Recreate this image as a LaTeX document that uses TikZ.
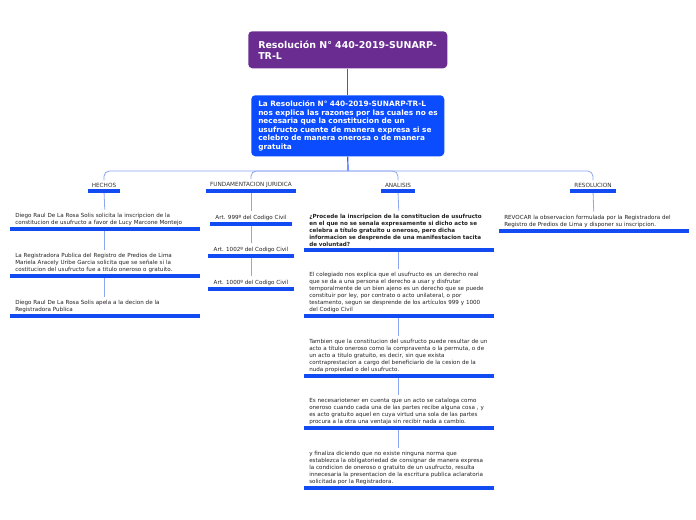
\documentclass[tikz,border=0pt]{standalone}
\usepackage{fontspec}
\setmainfont{DejaVu Sans}
\definecolor{purp}{HTML}{6A2C91}
\definecolor{bbox}{HTML}{0B4CFF}
\definecolor{ulc}{HTML}{124BF2}
\definecolor{connc}{HTML}{8DA6F2}
\definecolor{mainc}{HTML}{2A5BFF}
\definecolor{txt}{HTML}{222222}
\definecolor{headc}{HTML}{333333}
\newcommand{\oneline}[1]{\mbox{#1}}
\tikzset{
  titlebox/.style={draw=none, fill=purp, rounded corners=3pt, text=white, anchor=north west,
    minimum width=149.25pt, minimum height=27.75pt, text width=134.25pt, inner xsep=7.5pt,
    align=left, font=\fontsize{7.1}{8.3}\selectfont\bfseries},
  mainbox/.style={draw=none, fill=bbox, rounded corners=3pt, text=white, anchor=north west,
    minimum width=144.75pt, minimum height=45.75pt, text width=134.25pt, inner xsep=5.25pt,
    align=left, font=\fontsize{5.5}{6.45}\selectfont\bfseries},
  headnode/.style={anchor=south, inner xsep=3pt, inner ysep=2.2pt, text=headc,
    font=\fontsize{4.3}{5}\selectfont},
  artnode/.style={anchor=south, inner xsep=3.75pt, inner ysep=2.6pt, text=txt,
    font=\fontsize{4.2}{5}\selectfont},
  itemnode/.style={anchor=south west, inner xsep=3.75pt, inner ysep=2.4pt, text width=134.25pt,
    align=left, text=txt, font=\fontsize{4.2}{5.25}\selectfont},
  uline/.style={draw=ulc, line width=2.3pt},
  conn/.style={draw=connc, line width=0.6pt},
  mainconn/.style={draw=mainc, line width=0.9pt},
}
\begin{document}
\begin{tikzpicture}[x=0.75pt,y=-0.75pt]
\useasboundingbox[fill=white] (0,0) rectangle (696,520);

\node[titlebox] (title) at (248,31) {\oneline{Resolución N° 440-2019-SUNARP-}\\\oneline{TR-L}};
\node[mainbox] (main) at (251,95) {\oneline{La Resolución N° 440-2019-SUNARP-TR-L}\\\oneline{nos explica las razones por las cuales no es}\\\oneline{necesaria que la constitucion de un}\\\oneline{usufructo cuente de manera expresa si se}\\\oneline{celebro de manera onerosa o de manera}\\\oneline{gratuita}};
\draw[mainconn] (title.south) -- (main.north);
\coordinate (junc) at (348,171);
\draw[mainconn] (main.south) -- (junc);

% headings
\node[headnode] (hechos) at (104,191) {HECHOS};
\node[headnode] (fund) at (251,191) {FUNDAMENTACION JURIDICA};
\node[headnode] (anal) at (398,191) {ANALISIS};
\node[headnode] (resol) at (593,191) {RESOLUCION};

\foreach \n in {hechos,fund,anal,resol}{
  \draw[conn, rounded corners=4pt] (junc) -| (\n.north);
}

% HECHOS items
\node[itemnode] (h1) at (10,229) {Diego Raul De La Rosa Solis solicita la inscripcion de la\\constitucion de usufructo a favor de Lucy Marcone Montejo};
\node[itemnode] (h2) at (10,276) {La Registradora Publica del Registro de Predios de Lima\\Mariela Aracely Uribe Garcia solicita que se señale si la\\costitucion del usufructo fue a titulo oneroso o gratuito.};
\node[itemnode] (h3) at (10,316) {Diego Raul De La Rosa Solis apela a la decion de la\\Registradora Publica};

% FUNDAMENTACION items
\node[artnode] (f1) at (251,224) {Art. 999º del Codigo Civil};
\node[artnode] (f2) at (251,256) {Art. 1002º del Codigo Civil};
\node[artnode] (f3) at (251,289) {Art. 1000º del Codigo Civil};

% ANALISIS items
\node[itemnode, font=\fontsize{4.2}{5.25}\selectfont\bfseries] (a1) at (304,250) {\oneline{¿Procede la inscripcion de la constitucion de usufructo}\\\oneline{en el que no se senala expresamente si dicho acto se}\\\oneline{celebra a título gratuito u oneroso, pero dicha}\\\oneline{informacion se desprende de una manifestacion tacita}\\\oneline{de voluntad?}};
\node[itemnode] (a2) at (304,316) {El colegiado nos explica que el usufructo es un derecho real\\que se da a una persona el derecho a usar y disfrutar\\temporalmente de un bien ajeno es un derecho que se puede\\constituir por ley, por contrato o acto unilateral, o por\\testamento, segun se desprende de los artículos 999 y 1000\\del Codigo Civil};
\node[itemnode] (a3) at (304,376) {Tambien que la constitucion del usufructo puede resultar de un\\acto a titulo oneroso como la compraventa o la permuta, o de\\un acto a titulo gratuito, es decir, sin que exista\\contraprestacion a cargo del beneficiario de la cesion de la\\nuda propiedad o del usufructo.};
\node[itemnode] (a4) at (304,428) {Es necesariotener en cuenta que un acto se cataloga como\\oneroso cuando cada una de las partes recibe alguna cosa , y\\es acto gratuito aquel en cuya virtud una sola de las partes\\procura a la otra una ventaja sin recibir nada a cambio.};
\node[itemnode] (a5) at (304,488) {y finaliza diciendo que no existe ninguna norma que\\establezca la obligatoriedad de consignar de manera expresa\\la condicion de oneroso o gratuito de un usufructo, resulta\\innecesaria la presentacion de la escritura publica aclaratoria\\solicitada por la Registradora.};

% RESOLUCION item
\node[itemnode] (r1) at (499,231) {REVOCAR la observacion formulada por la Registradora del\\Registro de Predios de Lima y disponer su inscripcion.};

% connectors
\draw[conn] (hechos.south) -- (h1.north);
\draw[conn] (h1.south) -- (h2.north);
\draw[conn] (h2.south) -- (h3.north);
\draw[conn] (fund.south) -- (f1.north);
\draw[conn] (f1.south) -- (f2.north);
\draw[conn] (f2.south) -- (f3.north);
\draw[conn] (anal.south) -- (a1.north);
\draw[conn] (a1.south) -- (a2.north);
\draw[conn] (a2.south) -- (a3.north);
\draw[conn] (a3.south) -- (a4.north);
\draw[conn] (a4.south) -- (a5.north);
\draw[conn] (resol.south) -- (r1.north);

% underlines
\foreach \n in {hechos,fund,anal,resol,h1,h2,h3,f1,f2,f3,a1,a2,a3,a4,a5,r1}{
  \draw[uline] (\n.south west) -- (\n.south east);
}
\end{tikzpicture}
\end{document}
